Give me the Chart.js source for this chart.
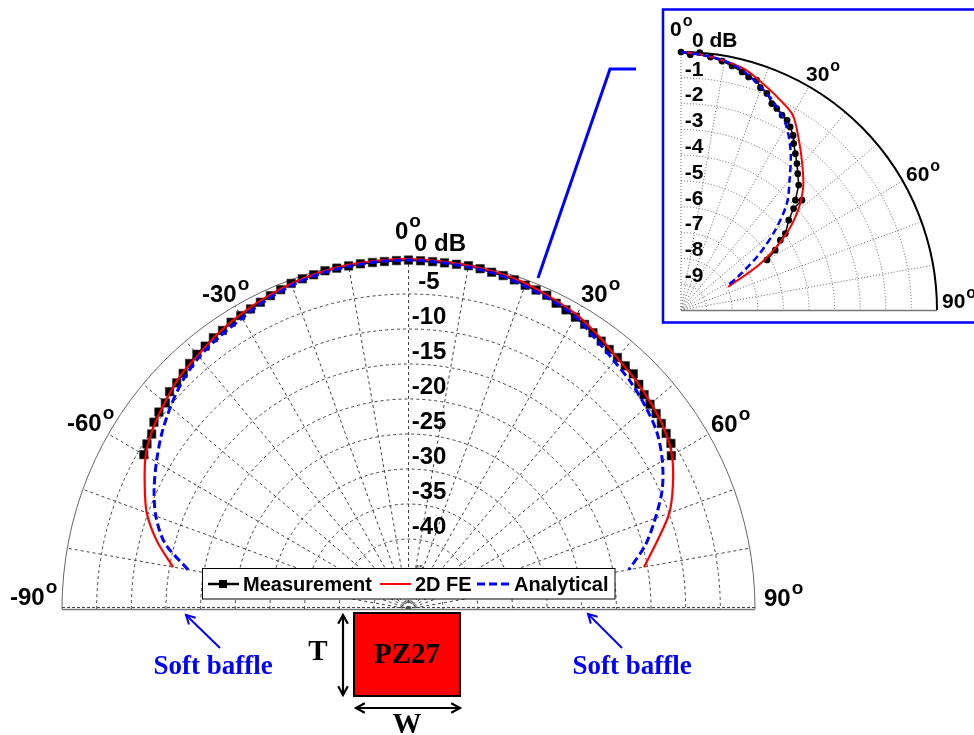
<!DOCTYPE html>
<html>
<head>
<meta charset="utf-8">
<script src="https://cdn.jsdelivr.net/npm/chart.js@4.4.1/dist/chart.umd.min.js"></script>
<style>
  body { margin: 0; background: #fff; }
  #wrap { position: relative; width: 974px; height: 735px; overflow: hidden; }
  canvas { position: absolute; left: 0; top: 0; }
</style>
</head>
<body>
<div id="wrap">
  <canvas id="main" width="974" height="735"></canvas>
  <canvas id="inset" width="974" height="735"></canvas>
</div>
<script>
// ---- main plot: angle (deg) and level (dB) ----
const measAngles = [-60,-58,-56,-54,-52,-50,-48,-46,-44,-42,-40,-38,-36,-34,-32,-30,-28,-26,-24,-22,-20,-18,-16,-14,-12,-10,-8,-6,-4,-2,
  0,2,4,6,8,10,12,14,16,18,20,22,24,26,28,30,32,34,36,38,40,42,44,46,48,50,52,54,56,58,60];
const measDb = [-5.9,-5.5,-5.3,-4.6,-4.3,-4.2,-3.6,-3.5,-3.2,-2.8,-2.5,-2.35,-2.1,-2.0,-1.7,-1.6,-1.45,-1.25,-1.0,-0.8,-0.5,-0.4,-0.33,-0.2,-0.22,-0.23,-0.2,-0.23,-0.24,-0.2,
  -0.15,-0.22,-0.26,-0.28,-0.27,-0.2,-0.3,-0.42,-0.45,-0.56,-0.78,-0.85,-0.94,-1.4,-1.6,-1.85,-2.05,-2.4,-2.7,-2.95,-3.1,-3.25,-3.3,-3.8,-4.25,-4.5,-4.65,-4.9,-5.15,-5.35,-6.2];

const feAngles = [-80,-75,-70,-65,-60,-55,-50,-45,-40,-35,-30,-25,-20,-15,-10,-5,0,5,10,15,20,25,30,35,40,45,50,55,60,65,70,75,80];
const feDb = [-15.5,-12.4,-9.8,-8.0,-6.2,-5.0,-4.1,-3.2,-2.7,-2.0,-1.45,-0.95,-0.55,-0.25,-0.08,-0.02,0,
  -0.1,-0.17,-0.27,-0.5,-1.0,-1.45,-2.3,-3.15,-3.7,-4.3,-5.0,-6.1,-7.9,-9.95,-12.9,-15.5];

const anaAngles = [-80,-75,-70,-65,-60,-55,-50,-45,-40,-35,-30,-25,-20,-15,-10,-5,0,5,10,15,20,25,30,35,40,45,50,55,60,65,70,75,80];
const anaDb = [-17.7,-13.6,-11.2,-9.5,-8.0,-6.5,-5.15,-3.9,-3.0,-2.5,-2.0,-1.33,-0.8,-0.45,-0.3,-0.2,-0.15,
  -0.28,-0.4,-0.5,-0.9,-1.3,-1.8,-2.9,-3.8,-4.45,-5.25,-6.2,-7.7,-9.6,-12.1,-14.6,-17.7];

const mainRingTicks = [-5,-10,-15,-20,-25,-30,-35,-40];
const mainFloor = -50;

// ---- inset plot ----
const insetMeasAngles = [0,2.1,4.2,6.7,9.4,11.9,14.5,16.3,18.4,19.8,21.8,23.9,25.6,27.6,29.4,31.0,32.9,34.3,36.4,38.6,40.8,43.5,46.4,48.0,48.2,50.4,54.0,55.1,57.8,60.0];
const insetMeasDb = [0,-0.1,0,-0.13,-0.22,-0.33,-0.47,-0.59,-0.62,-0.84,-0.96,-1.25,-1.34,-1.48,-1.56,-1.72,-1.94,-2.19,-2.47,-2.74,-3.02,-3.32,-3.83,-3.64,-4.1,-4.54,-4.96,-5.27,-5.65,-6.12];

const insetFeAngles = [0,5,10,15,20,25,30,35,40,45,50,55,60,64];
const insetFeDb = [0,-0.08,-0.2,-0.34,-0.66,-0.96,-1.27,-1.97,-2.63,-3.25,-4.05,-5.1,-6.45,-7.95];

const insetAnaAngles = [0,5,10,15,20,25,30,35,40,45,50,55,60,63];
const insetAnaDb = [0,-0.09,-0.19,-0.44,-0.83,-1.24,-1.77,-2.53,-3.4,-4.15,-5.2,-6.33,-7.45,-8.0];

const insetRingTicks = [-1,-2,-3,-4,-5,-6,-7,-8,-9];
const insetFloor = -10;

const SANS = '"Liberation Sans", Arial, sans-serif';
const SERIF = '"Liberation Serif", "Times New Roman", serif';

function toXY(angles, db, floor) {
  return angles.map((a, i) => {
    const r = db[i] - floor, t = a * Math.PI / 180;
    return { x: r * Math.sin(t), y: r * Math.cos(t) };
  });
}

function degLabel(ctx, txt, x, y, size) {
  ctx.font = `bold ${size}px ${SANS}`;
  ctx.textAlign = 'left';
  ctx.textBaseline = 'middle';
  ctx.fillText(txt, x, y);
  const w = ctx.measureText(txt).width;
  ctx.font = `bold ${Math.round(size * 0.78)}px ${SANS}`;
  ctx.fillText('o', x + w + 1, y - size * 0.42);
}

function arrowHead(ctx, x1, y1, x2, y2, len) {
  const a = Math.atan2(y2 - y1, x2 - x1);
  ctx.beginPath();
  ctx.moveTo(x2 - len * Math.cos(a - 0.5), y2 - len * Math.sin(a - 0.5));
  ctx.lineTo(x2, y2);
  ctx.lineTo(x2 - len * Math.cos(a + 0.5), y2 - len * Math.sin(a + 0.5));
  ctx.stroke();
}

// polar grid drawn from the chart's own scales
function polarGrid(o) {
  return {
    id: 'polarGrid',
    beforeDatasetsDraw(chart) {
      const { ctx, scales: { x, y } } = chart;
      const cx = x.getPixelForValue(0), cy = y.getPixelForValue(0);
      const kx = x.getPixelForValue(1) - cx, ky = cy - y.getPixelForValue(1);
      ctx.save();
      ctx.strokeStyle = o.color;
      ctx.lineWidth = 1;
      ctx.setLineDash(o.dash);
      for (let r = o.step; r < o.rMax - 0.01; r += o.step) {
        ctx.beginPath();
        ctx.ellipse(cx, cy, r * kx, r * ky, 0, o.a0, o.a1);
        ctx.stroke();
      }
      for (let a = o.spokeFrom; a <= o.spokeTo; a += 10) {
        const t = a * Math.PI / 180;
        ctx.beginPath();
        ctx.moveTo(cx, cy);
        ctx.lineTo(cx + o.rMax * kx * Math.sin(t), cy - o.rMax * ky * Math.cos(t));
        ctx.stroke();
      }
      ctx.setLineDash([]);
      ctx.strokeStyle = o.outerColor;
      ctx.lineWidth = o.outerWidth;
      ctx.beginPath();
      ctx.ellipse(cx, cy, o.rMax * kx, o.rMax * ky, 0, o.a0, o.a1);
      ctx.stroke();
      // baseline
      ctx.strokeStyle = '#777';
      ctx.lineWidth = 1.3;
      ctx.beginPath();
      ctx.moveTo(o.baseFrom === 'left' ? cx - o.rMax * kx : cx, cy + 0.5);
      ctx.lineTo(cx + o.rMax * kx, cy + 0.5);
      ctx.stroke();
      if (o.baseDash) {
        ctx.setLineDash([3, 2]);
        ctx.strokeStyle = '#444';
        ctx.lineWidth = 1;
        ctx.beginPath();
        ctx.moveTo(cx - o.rMax * kx, cy - 1.5);
        ctx.lineTo(cx + o.rMax * kx, cy - 1.5);
        ctx.stroke();
      }
      ctx.restore();
    }
  };
}

const mainLabels = {
  id: 'mainLabels',
  afterDraw(chart) {
    const { ctx, scales: { y } } = chart;
    ctx.save();
    ctx.fillStyle = '#000';
    // ring labels
    ctx.font = `bold 24px ${SANS}`;
    ctx.textAlign = 'center';
    ctx.textBaseline = 'middle';
    mainRingTicks.forEach(t => ctx.fillText(String(t), 429, y.getPixelForValue(t - mainFloor) - 12));
    ctx.font = `7px ${SANS}`;
    ctx.fillText('-45', 418, y.getPixelForValue(5) - 6);
    ctx.font = `bold 24px ${SANS}`;
    ctx.textAlign = 'left';
    ctx.fillText('0 dB', 414, 244);
    degLabel(ctx, '0', 395, 232, 24);
    degLabel(ctx, '-30', 202, 295, 24);
    degLabel(ctx, '-60', 67, 424, 24);
    degLabel(ctx, '-90', 10, 598, 24);
    degLabel(ctx, '30', 581, 295, 24);
    degLabel(ctx, '60', 711, 425, 24);
    degLabel(ctx, '90', 764, 599, 24);

    // legend
    ctx.fillStyle = '#fff';
    ctx.fillRect(202, 568.5, 413, 30.5);
    ctx.strokeStyle = '#000';
    ctx.lineWidth = 1;
    ctx.strokeRect(202.5, 568.5, 412.5, 30.5);
    const ly = 584;
    ctx.lineWidth = 2.5;
    ctx.beginPath(); ctx.moveTo(208, ly); ctx.lineTo(239, ly); ctx.stroke();
    ctx.fillStyle = '#000';
    ctx.fillRect(219, ly - 4, 8, 8);
    ctx.strokeStyle = '#ff0000'; ctx.lineWidth = 2;
    ctx.beginPath(); ctx.moveTo(380, ly); ctx.lineTo(411, ly); ctx.stroke();
    ctx.strokeStyle = '#0000ff'; ctx.lineWidth = 3; ctx.setLineDash([8, 4]);
    ctx.beginPath(); ctx.moveTo(477, ly); ctx.lineTo(511, ly); ctx.stroke();
    ctx.setLineDash([]);
    ctx.font = `bold 20px ${SANS}`;
    ctx.fillStyle = '#000';
    ctx.fillText('Measurement', 243, ly + 1);
    ctx.fillText('2D FE', 415, ly + 1);
    ctx.fillText('Analytical', 514, ly + 1);

    // callout to the inset and its frame
    ctx.strokeStyle = '#0000ff';
    ctx.lineWidth = 3;
    ctx.beginPath();
    ctx.moveTo(538, 278); ctx.lineTo(610, 69); ctx.lineTo(636, 69);
    ctx.stroke();
    ctx.lineWidth = 2.5;
    ctx.strokeRect(663, 9.5, 330, 313);

    // transducer sketch
    ctx.fillStyle = '#ff0000';
    ctx.fillRect(354, 613, 106, 83);
    ctx.strokeStyle = '#000';
    ctx.lineWidth = 2;
    ctx.strokeRect(354, 613, 106, 83);
    ctx.fillStyle = '#000';
    ctx.font = `bold 29px ${SERIF}`;
    ctx.textAlign = 'center';
    ctx.fillText('PZ27', 407, 656);
    ctx.fillText('T', 318, 653);
    ctx.fillText('W', 407, 726);
    ctx.lineWidth = 2.2;
    ctx.beginPath(); ctx.moveTo(343, 615); ctx.lineTo(343, 695); ctx.stroke();
    arrowHead(ctx, 343, 695, 343, 615, 10);
    arrowHead(ctx, 343, 615, 343, 695, 10);
    ctx.beginPath(); ctx.moveTo(356, 708); ctx.lineTo(460, 708); ctx.stroke();
    arrowHead(ctx, 460, 708, 356, 708, 10);
    arrowHead(ctx, 356, 708, 460, 708, 10);

    // soft baffle notes
    ctx.strokeStyle = '#0000ff';
    ctx.fillStyle = '#0000ff';
    ctx.lineWidth = 2;
    ctx.beginPath(); ctx.moveTo(220, 648); ctx.lineTo(186, 615); ctx.stroke();
    arrowHead(ctx, 220, 648, 186, 615, 10);
    ctx.beginPath(); ctx.moveTo(622, 648); ctx.lineTo(588, 614); ctx.stroke();
    arrowHead(ctx, 622, 648, 588, 614, 10);
    ctx.font = `bold 27px ${SERIF}`;
    ctx.fillText('Soft baffle', 213, 667);
    ctx.fillText('Soft baffle', 632, 667);
    ctx.restore();
  }
};

const insetLabels = {
  id: 'insetLabels',
  afterDraw(chart) {
    const { ctx, scales: { y } } = chart;
    ctx.save();
    ctx.fillStyle = '#000';
    ctx.font = `bold 21px ${SANS}`;
    ctx.textAlign = 'center';
    ctx.textBaseline = 'middle';
    insetRingTicks.forEach(t => ctx.fillText(String(t), 694, y.getPixelForValue(t - insetFloor) - 8));
    ctx.textAlign = 'left';
    ctx.fillText('0 dB', 692, 41);
    degLabel(ctx, '0', 670, 30, 21);
    degLabel(ctx, '30', 806, 75, 21);
    degLabel(ctx, '60', 906, 175, 21);
    degLabel(ctx, '90', 942, 302, 21);
    ctx.restore();
  }
};

const common = {
  responsive: false,
  animation: false,
  events: [],
  plugins: { legend: { display: false }, tooltip: { enabled: false } }
};

new Chart(document.getElementById('main'), {
  type: 'scatter',
  data: {
    datasets: [{
      label: 'Measurement',
      data: toXY(measAngles, measDb, mainFloor),
      showLine: true,
      borderColor: '#000',
      borderWidth: 2,
      pointStyle: 'rect',
      pointRadius: 6,
      pointBackgroundColor: '#000',
      pointBorderColor: '#333',
      pointBorderWidth: 0.6,
      clip: false,
      order: 3
    }, {
      label: '2D FE',
      data: toXY(feAngles, feDb, mainFloor),
      showLine: true,
      borderColor: '#ff0000',
      borderWidth: 2.2,
      pointRadius: 0,
      tension: 0.3,
      clip: false,
      order: 2
    }, {
      label: 'Analytical',
      data: toXY(anaAngles, anaDb, mainFloor),
      showLine: true,
      borderColor: '#0000ff',
      borderWidth: 3,
      borderDash: [8, 4],
      pointRadius: 0,
      tension: 0.3,
      clip: false,
      order: 1
    }]
  },
  options: {
    ...common,
    layout: { padding: { left: 62, right: 219, top: 259, bottom: 126 } },
    scales: {
      x: { type: 'linear', min: -50, max: 50, display: false },
      y: { type: 'linear', min: 0, max: 50, display: false }
    }
  },
  plugins: [polarGrid({ rMax: 50, step: 5, spokeFrom: -80, spokeTo: 80, a0: Math.PI, a1: 2 * Math.PI,
    dash: [3, 3], color: '#444', outerColor: '#666', outerWidth: 1, baseFrom: 'left', baseDash: true }), mainLabels]
});

new Chart(document.getElementById('inset'), {
  type: 'scatter',
  data: {
    datasets: [{
      label: 'Measurement',
      data: toXY(insetMeasAngles, insetMeasDb, insetFloor),
      showLine: true,
      borderColor: '#000',
      borderWidth: 1.5,
      pointStyle: 'circle',
      pointRadius: 2.6,
      pointBackgroundColor: '#000',
      pointBorderColor: '#000',
      clip: false,
      order: 3
    }, {
      label: '2D FE',
      data: toXY(insetFeAngles, insetFeDb, insetFloor),
      showLine: true,
      borderColor: '#ff0000',
      borderWidth: 2,
      pointRadius: 0,
      tension: 0.3,
      clip: false,
      order: 2
    }, {
      label: 'Analytical',
      data: toXY(insetAnaAngles, insetAnaDb, insetFloor),
      showLine: true,
      borderColor: '#0000ff',
      borderWidth: 2.5,
      borderDash: [7, 4],
      pointRadius: 0,
      tension: 0.3,
      clip: false,
      order: 1
    }]
  },
  options: {
    ...common,
    layout: { padding: { left: 681, right: 37, top: 52, bottom: 425 } },
    scales: {
      x: { type: 'linear', min: 0, max: 10, display: false },
      y: { type: 'linear', min: 0, max: 10, display: false }
    }
  },
  plugins: [polarGrid({ rMax: 10, step: 1, spokeFrom: 0, spokeTo: 80, a0: 1.5 * Math.PI, a1: 2 * Math.PI,
    dash: [1, 2], color: '#666', outerColor: '#000', outerWidth: 2, baseFrom: 'center', baseDash: false }), insetLabels]
});
</script>
</body>
</html>
